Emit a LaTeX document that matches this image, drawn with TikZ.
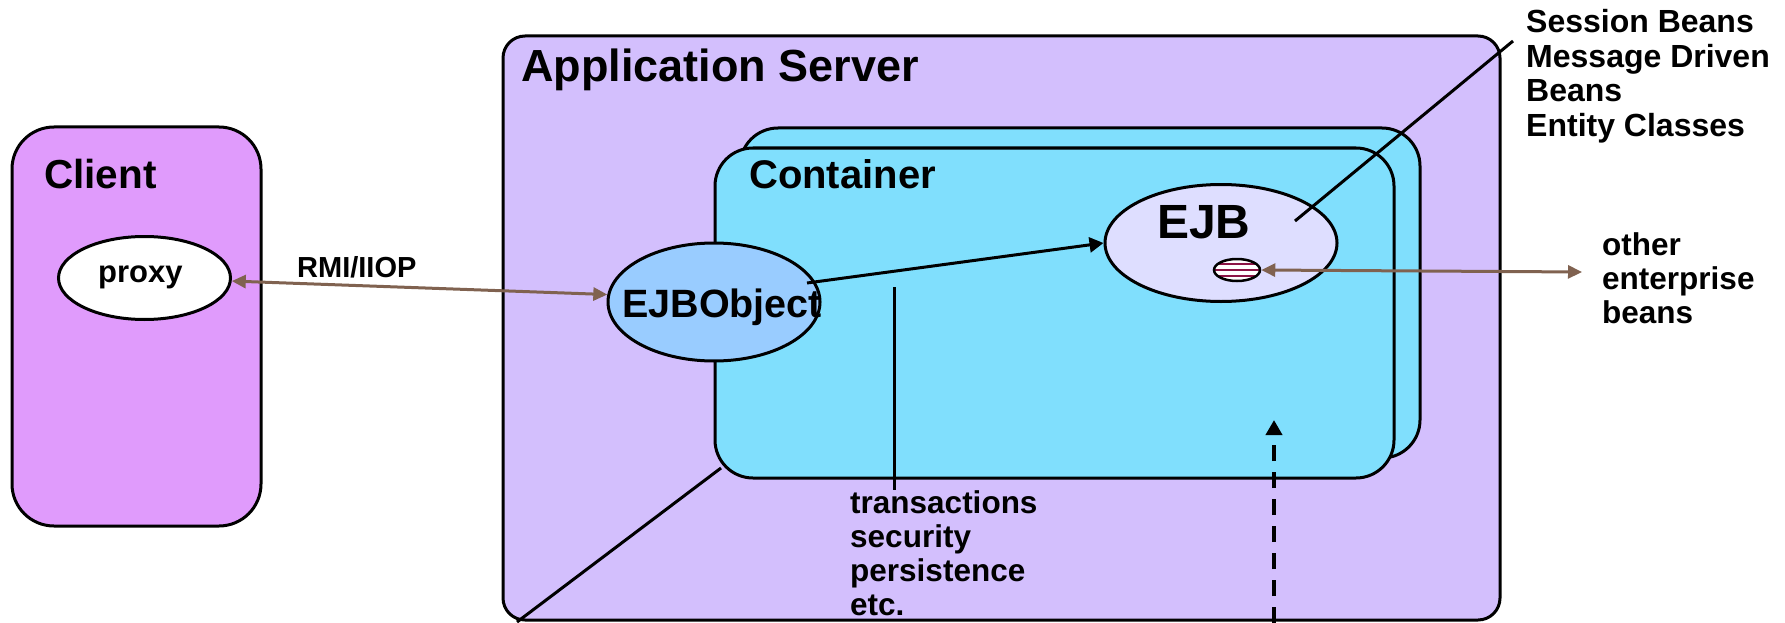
\documentclass[tikz,border=0pt]{standalone}
\usepackage{fontspec}
\setmainfont{Liberation Sans}
\usetikzlibrary{shapes.geometric,arrows.meta,calc}

\definecolor{clientfill}{RGB}{224,155,252}
\definecolor{serverfill}{RGB}{211,191,253}
\definecolor{contfill}{RGB}{128,223,253}
\definecolor{objfill}{RGB}{153,204,255}
\definecolor{ejbfill}{RGB}{222,222,255}
\definecolor{wire}{RGB}{128,98,80}
\definecolor{stripe}{RGB}{140,20,70}

\tikzset{
  box/.style={draw=black, line width=3pt, inner sep=0pt},
  blob/.style={ellipse, draw=black, line width=3pt, inner sep=0pt},
  lbl/.style={anchor=base west, inner sep=0pt, font=\bfseries\fontsize{#1}{#1}\selectfont},
  plain/.style={draw=black, line width=3pt},
  wirearrow/.style={draw=wire, line width=3pt,
    {Triangle[length=14pt,width=13pt]}-{Triangle[length=14pt,width=13pt]}},
  callarrow/.style={draw=black, line width=3pt, -{Triangle[length=14pt,width=15pt]}},
  hookarrow/.style={draw=black, line width=4pt, dash pattern=on 16pt off 11pt,
    -{Triangle[length=15pt,width=16pt]}},
  handle/.style={ellipse, draw=black, line width=2.5pt, fill=white, inner sep=0pt,
    minimum width=46pt, minimum height=22pt,
    path picture={\foreach \dy in {-6,0,6}
      \draw[stripe, line width=2pt]
        ([yshift=\dy pt]path picture bounding box.west) --
        ([yshift=\dy pt]path picture bounding box.east);}}
}

\begin{document}
\begin{tikzpicture}[x=1pt,y=-1pt]
\useasboundingbox (0,0) rectangle (1785,623);

% server, client and the two stacked containers
\node[box, fill=serverfill, rounded corners=22pt, minimum width=997pt, minimum height=584pt]
  (server) at (1001.5,328) {};
\node[box, fill=clientfill, rounded corners=42pt, minimum width=249pt, minimum height=399pt]
  (client) at (136.5,326.5) {};
\node[box, fill=contfill, rounded corners=38pt, minimum width=680pt, minimum height=330pt]
  (backcont) at (1080,293) {};
\node[box, fill=contfill, rounded corners=38pt, minimum width=679pt, minimum height=330pt]
  (frontcont) at (1054.5,313) {};

% components
\node[blob, fill=white, minimum width=172pt, minimum height=83pt] (proxy) at (144.5,278) {};
\node[blob, fill=objfill, minimum width=212pt, minimum height=118pt] (ejbobj) at (714,302) {};
\node[blob, fill=ejbfill, minimum width=232pt, minimum height=117pt] (ejb) at (1221,243) {};
\node[handle] (handle) at (1237,270) {};

% titles
\node[lbl=45] (servertitle) at (521,82) {Application Server};
\node[lbl=40.5] (clienttitle) at (44,188) {Client};
\node[lbl=40] (conttitle) at (749,188) {Container};
\node[lbl=39.5] (ejbobjtitle) at (622,317) {EJBObject};
\node[lbl=48] (ejbtitle) at (1157,238) {EJB};
\node[lbl=31] (proxytitle) at (98,282) {proxy};
\node[lbl=29] (rmi) at (297,277) {RMI/IIOP};

% bean kinds
\node[lbl=32] (kinda) at (1526,33) {Session Beans};
\node[lbl=32] (kindb) at (1526,68) {Message Driven};
\node[lbl=32] (kindc) at (1526,102) {Beans};
\node[lbl=32] (kindd) at (1526,137) {Entity Classes};

% other beans
\node[lbl=31.5] (otha) at (1602,255) {other};
\node[lbl=31.5] (othb) at (1602,289) {enterprise};
\node[lbl=31.5] (othc) at (1602,323) {beans};

% container services
\node[lbl=31.5] (sva) at (850,513) {transactions};
\node[lbl=31.5] (svb) at (850,547) {security};
\node[lbl=31.5] (svc) at (850,581) {persistence};
\node[lbl=31.5] (svd) at (850,615) {etc.};

% free ends of the pointer lines
\coordinate (kindpt) at (1513,41);
\coordinate (othpt) at (1582,272);
\coordinate (svtop) at (894,287);
\coordinate (diagtop) at (721,468);
\coordinate (diagfoot) at (517,622);
\coordinate (hookfoot) at (1274,623);
\coordinate (hooktip) at (1274,420);

% connectors
\draw[wirearrow] (proxy.-2) -- (ejbobj.176);
\draw[callarrow] ($(ejbobj.center)+(93,-19)$) -- (ejb.west);
\draw[wirearrow] (handle.east) -- (othpt);
\draw[plain] ($(ejb.center)+(74,-22)$) -- (kindpt);
\draw[plain] (svtop) -- (svtop |- sva.north);
\draw[plain] (diagtop) -- (diagfoot);
\draw[hookarrow] (hookfoot) -- (hooktip);
\end{tikzpicture}
\end{document}
